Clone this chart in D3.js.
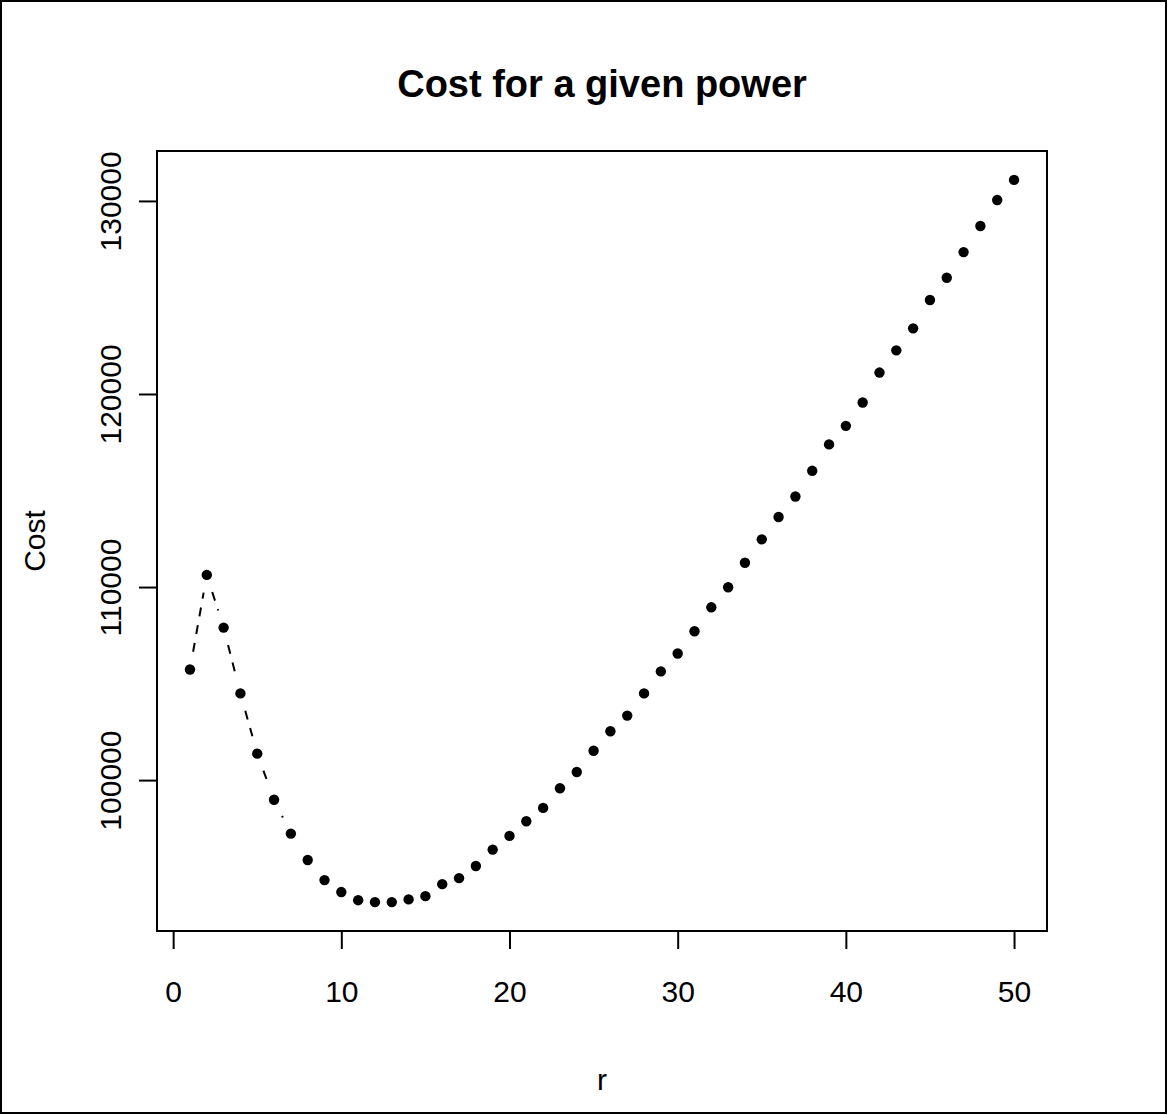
<!DOCTYPE html>
<html>
<head>
<meta charset="utf-8">
<script src="https://cdn.jsdelivr.net/npm/d3@7"></script>
<style>
  body { margin: 0; background: #fff; }
  text { font-family: "Liberation Sans", Arial, sans-serif; fill: #000; }
</style>
</head>
<body>
<div id="container"></div>
<script>
var title = "Cost for a given power";
var x_label = "r";
var y_label = "Cost";

var r_values = [1, 2, 3, 4, 5, 6, 7, 8, 9, 10,
                11, 12, 13, 14, 15, 16, 17, 18, 19, 20,
                21, 22, 23, 24, 25, 26, 27, 28, 29, 30,
                31, 32, 33, 34, 35, 36, 37, 38, 39, 40,
                41, 42, 43, 44, 45, 46, 47, 48, 49, 50];

var cost_values = [105730, 110630, 107900, 104490, 101370, 98980, 97230, 95860, 94820, 94200,
                   93780, 93680, 93680, 93820, 93990, 94610, 94920, 95550, 96400, 97110,
                   97870, 98560, 99580, 100420, 101520, 102530, 103340, 104490, 105630, 106560,
                   107710, 108950, 109990, 111260, 112470, 113630, 114690, 116020, 117390, 118350,
                   119560, 121110, 122260, 123400, 124870, 126020, 127350, 128700, 130050, 131090];

var x_ticks = [0, 10, 20, 30, 40, 50];
var y_ticks = [100000, 110000, 120000, 130000];

var init = function(){
    var width = 1168, height = 1115;
    var box = {left: 157, right: 1047, top: 151, bottom: 931};
    var tick_len = 18;
    var font_size = 30;

    var svg = d3.select("#container").append("svg")
        .attr("width", width)
        .attr("height", height);

    // outer frame
    svg.append("rect")
        .attr("x", 1).attr("y", 1)
        .attr("width", width - 3).attr("height", height - 3)
        .attr("fill", "none").attr("stroke", "#000").attr("stroke-width", 2);

    // R style ranges: data range stretched by 4% each side
    var pad = function(ext){
        var d = (ext[1] - ext[0]) * 0.04;
        return [ext[0] - d, ext[1] + d];
    };

    var x = d3.scaleLinear()
        .domain(pad(d3.extent(r_values)))
        .range([box.left, box.right]);
    var y = d3.scaleLinear()
        .domain(pad(d3.extent(cost_values)))
        .range([box.bottom, box.top]);

    var pts = r_values.map(function(r, i){ return [x(r), y(cost_values[i])]; });

    // type = "b": segments with a gap round every point
    var gap = 18;
    var lines = svg.append("g")
        .attr("stroke", "#000")
        .attr("stroke-width", 2)
        .attr("stroke-dasharray", "9,9")
        .attr("fill", "none");
    for (var i = 1; i < pts.length; i++){
        var p0 = pts[i-1], p1 = pts[i];
        var dist = Math.hypot(p1[0] - p0[0], p1[1] - p0[1]);
        var f = gap / dist;
        if (f < 0.5){
            lines.append("line")
                .attr("x1", p0[0] + f * (p1[0] - p0[0]))
                .attr("y1", p0[1] + f * (p1[1] - p0[1]))
                .attr("x2", p1[0] - f * (p1[0] - p0[0]))
                .attr("y2", p1[1] - f * (p1[1] - p0[1]));
        }
    }

    svg.append("g").selectAll("circle")
        .data(pts)
        .enter().append("circle")
        .attr("cx", function(d){ return d[0]; })
        .attr("cy", function(d){ return d[1]; })
        .attr("r", 5.2)
        .attr("fill", "#000");

    // plot box
    svg.append("rect")
        .attr("x", box.left).attr("y", box.top)
        .attr("width", box.right - box.left)
        .attr("height", box.bottom - box.top)
        .attr("fill", "none").attr("stroke", "#000").attr("stroke-width", 2);

    // x axis
    var x_axis = d3.axisBottom(x)
        .tickValues(x_ticks)
        .tickSize(tick_len)
        .tickFormat(d3.format("d"));
    var xg = svg.append("g")
        .attr("transform", "translate(0," + box.bottom + ")")
        .call(x_axis);
    xg.select(".domain")
        .attr("d", "M" + x(x_ticks[0]) + ",0H" + x(x_ticks[x_ticks.length - 1]))
        .attr("stroke-width", 2);
    xg.selectAll(".tick line").attr("stroke-width", 2);
    xg.selectAll(".tick text")
        .attr("font-size", font_size)
        .attr("font-family", "Liberation Sans, Arial, sans-serif")
        .attr("dy", null)
        .attr("y", 71);

    // y axis
    var y_axis = d3.axisLeft(y)
        .tickValues(y_ticks)
        .tickSize(tick_len)
        .tickFormat(d3.format("d"));
    var yg = svg.append("g")
        .attr("transform", "translate(" + box.left + ",0)")
        .call(y_axis);
    yg.select(".domain")
        .attr("d", "M0," + y(y_ticks[0]) + "V" + y(y_ticks[y_ticks.length - 1]))
        .attr("stroke-width", 2);
    yg.selectAll(".tick line").attr("stroke-width", 2);
    yg.selectAll(".tick text")
        .attr("font-size", font_size)
        .attr("font-family", "Liberation Sans, Arial, sans-serif")
        .attr("text-anchor", "middle")
        .attr("x", null).attr("dy", null)
        .attr("transform", "translate(-36,0) rotate(-90)");

    // title and axis labels
    svg.append("text")
        .attr("x", (box.left + box.right) / 2)
        .attr("y", 97)
        .attr("text-anchor", "middle")
        .attr("font-weight", "bold")
        .attr("font-size", 38)
        .text(title);

    svg.append("text")
        .attr("x", (box.left + box.right) / 2)
        .attr("y", 1090)
        .attr("text-anchor", "middle")
        .attr("font-size", font_size)
        .text(x_label);

    svg.append("text")
        .attr("transform", "translate(45," + ((box.top + box.bottom) / 2) + ") rotate(-90)")
        .attr("text-anchor", "middle")
        .attr("font-size", font_size)
        .text(y_label);
};

init();
</script>
</body>
</html>
